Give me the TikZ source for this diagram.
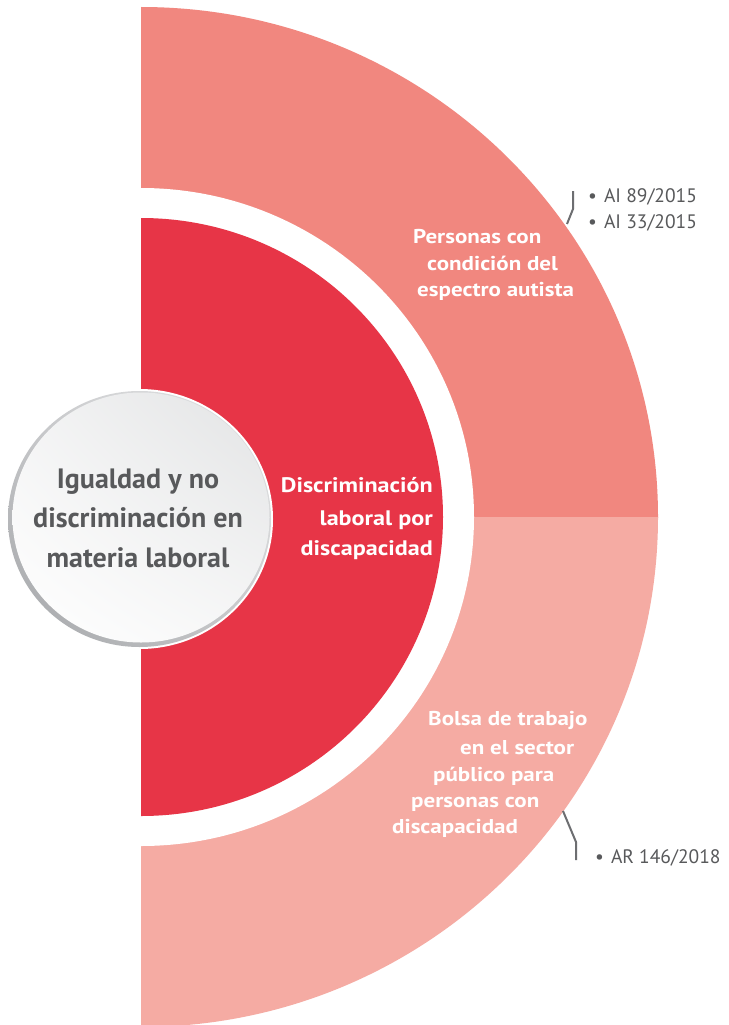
\documentclass[tikz,border=0pt]{standalone}
\usepackage{fontspec}
\setmainfont{PT Sans}
\newfontfamily\widesans{PT Sans}[FakeStretch=1.15]
\usetikzlibrary{shadings}
\definecolor{outerA}{HTML}{F1877F}
\definecolor{outerB}{HTML}{F5ABA3}
\definecolor{innerR}{HTML}{E73547}
\definecolor{txtg}{HTML}{58595B}
\definecolor{lineg}{HTML}{6D6E71}
\definecolor{rimA}{HTML}{E4E5E6}
\definecolor{rimB}{HTML}{C9CACC}
\definecolor{rimC}{HTML}{A3A5A8}
\definecolor{inA}{HTML}{E2E3E4}
\begin{document}
\begin{tikzpicture}[x=1pt,y=-1pt,
  graytitle/.style={anchor=base,inner sep=0pt,text=txtg,font=\fontsize{28}{34}\selectfont\bfseries},
  whitetxt/.style={inner sep=0pt,text=white,font=\widesans\fontsize{21}{24}\selectfont\bfseries},
  armtxt/.style={anchor=base west,inner sep=0pt,text=white,font=\widesans\fontsize{20}{23}\selectfont\bfseries},
  reftxt/.style={anchor=base west,inner sep=0pt,text=txtg,font=\fontsize{19.5}{22}\selectfont},
  bracket/.style={draw=lineg,line width=2pt}]
\useasboundingbox (0,0) rectangle (728,1025);
\fill[white] (0,0) rectangle (728,1025);
\coordinate (C) at (141,517);
\begin{scope}
  \clip (141,0) rectangle (728,517);
  \fill[outerA] (C) ellipse[x radius=517pt, y radius=510pt];
\end{scope}
\begin{scope}
  \clip (141,517) rectangle (728,1025);
  \fill[outerB] (C) ellipse[x radius=517pt, y radius=510pt];
\end{scope}
\begin{scope}
  \clip (141,0) rectangle (728,1025);
  \fill[white] (C) ellipse[x radius=333pt, y radius=329pt];
  \fill[innerR] (C) ellipse[x radius=302pt, y radius=299pt];
\end{scope}
% grey circle
\coordinate (G) at (139.5,519);
\coordinate (Gi) at (141,517.5);
\fill[white] (G) ellipse[x radius=133.5pt, y radius=130pt];
\shade[upper left=rimB, upper right=rimA, lower left=rimC, lower right=rimB] (G) ellipse[x radius=131.5pt, y radius=128pt];
\shade[upper left=white!60!inA, upper right=inA, lower left=white, lower right=white!70!inA] (Gi) ellipse[x radius=128.5pt, y radius=125pt];
\node[graytitle] (t1) at (138,488) {Igualdad y no};
\node[graytitle] (t2) at (138,527) {discriminación en};
\node[graytitle] (t3) at (138,567) {materia laboral};
% inner text
\node[whitetxt,anchor=base east] (d1) at (433,492) {Discriminación};
\node[whitetxt,anchor=base east] (d2) at (433,525) {laboral por};
\node[whitetxt,anchor=base east] (d3) at (433,555) {discapacidad};
% upper arm
\node[armtxt] (p1) at (413,243) {Personas con};
\node[armtxt] (p2) at (427,270) {condición del};
\node[armtxt] (p3) at (417,296) {espectro autista};
% lower arm
\node[armtxt] (q1) at (428,725) {Bolsa de trabajo};
\node[armtxt] (q2) at (460,754) {en el sector};
\node[armtxt] (q3) at (433,781) {público para};
\node[armtxt] (q4) at (411,807) {personas con};
\node[armtxt] (q5) at (392,833) {discapacidad};
% references
\node[reftxt] (r1) at (588,202) {\textbullet\hspace{7pt}AI 89/2015};
\node[reftxt] (r2) at (588,228) {\textbullet\hspace{7pt}AI 33/2015};
\node[reftxt] (r3) at (595,863) {\textbullet\hspace{7pt}AR 146/2018};
% brackets
\coordinate (b1a) at (567,224);
\coordinate (b1b) at (573,209);
\coordinate (b1c) at (573,191);
\coordinate (b2a) at (563,811);
\coordinate (b2b) at (576,842);
\coordinate (b2c) at (576,860);
\draw[bracket] (b1a) -- (b1b) -- (b1c);
\draw[bracket] (b2a) -- (b2b) -- (b2c);
\end{tikzpicture}
\end{document}
